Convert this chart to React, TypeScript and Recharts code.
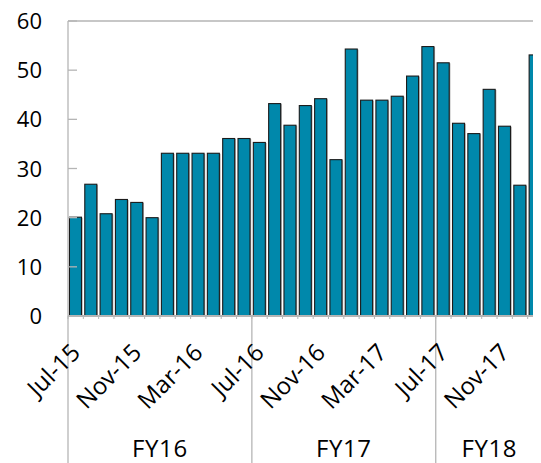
import React from "react";
import { BarChart, Bar, XAxis, YAxis, ReferenceLine } from "recharts";

const months = [
  "Jul-15", "Aug-15", "Sep-15", "Oct-15", "Nov-15", "Dec-15",
  "Jan-16", "Feb-16", "Mar-16", "Apr-16", "May-16", "Jun-16",
  "Jul-16", "Aug-16", "Sep-16", "Oct-16", "Nov-16", "Dec-16",
  "Jan-17", "Feb-17", "Mar-17", "Apr-17", "May-17", "Jun-17",
  "Jul-17", "Aug-17", "Sep-17", "Oct-17", "Nov-17", "Dec-17",
  "Jan-18",
];
const values = [
  20.1, 26.8, 20.8, 23.7, 23.1, 20.0,
  33.1, 33.1, 33.1, 33.1, 36.1, 36.1,
  35.3, 43.2, 38.8, 42.8, 44.2, 31.8,
  54.3, 43.9, 43.9, 44.7, 48.8, 54.8,
  51.5, 39.2, 37.1, 46.1, 38.6, 26.6,
  53.1,
];
const yTicks = [0, 10, 20, 30, 40, 50, 60];
const fyLabels = [
  { index: 6, label: "FY16", edge: true },
  { index: 18, label: "FY17", edge: true },
  { index: 27, label: "FY18", edge: false },
];
const fyStarts = [0, 12, 24];

const data = months.map((m, i) => ({ month: m, value: values[i] }));

const W = 535;
const H = 455;
const LEFT = 60;
const BW = (W - LEFT) / months.length;
const GRAY = "#b5b5b5";
const FONT = "'Open Sans', 'Noto Sans', sans-serif";

const XTick = (props: any) => {
  const { x, y, payload, index } = props;
  const left = x - BW / 2;
  const fy = fyLabels.find((f) => f.index === index);
  return (
    <g>
      <line x1={left} y1={y} x2={left} y2={y + 3} stroke={GRAY} strokeWidth={1} />
      {fyStarts.includes(index) && (
        <line x1={left} y1={y} x2={left} y2={y + 150} stroke={GRAY} strokeWidth={1.3} />
      )}
      {index % 4 === 0 && (
        <text
          transform={`translate(${x + 6},${y + 38}) rotate(-45)`}
          textAnchor="end"
          fontSize={24}
          fontFamily={FONT}
          fill="#000"
        >
          {payload.value}
        </text>
      )}
      {fy && (
        <text
          x={fy.edge ? left : x}
          y={y + 141}
          textAnchor="middle"
          fontSize={24}
          letterSpacing={0.6}
          fontFamily={FONT}
          fill="#000"
        >
          {fy.label}
        </text>
      )}
    </g>
  );
};

const YTick = (props: any) => {
  const { x, y, payload } = props;
  return (
    <g>
      <line x1={x} y1={y} x2={x + 9} y2={y} stroke={GRAY} strokeWidth={1.3} />
      <text
        x={x - 26}
        y={y}
        dy={8}
        textAnchor="end"
        fontSize={22}
        fontFamily={FONT}
        fill="#000"
      >
        {payload.value}
      </text>
    </g>
  );
};

const BarShape = (props: any) => {
  const { x, y, width, height } = props;
  return (
    <g>
      <rect x={x + 1.2} y={y + 0.5} width={width} height={height} fill="#a8a8a8" />
      <rect x={x} y={y} width={width} height={height} fill="#0088ab" stroke="#1b1b1b" strokeWidth={1.1} />
    </g>
  );
};

export default function App() {
  return (
    <div style={{ width: W, height: H }}>
      <BarChart
        width={W}
        height={H}
        data={data}
        margin={{ top: 13, right: 0, bottom: 0, left: 0 }}
        barCategoryGap="9.5%"
      >
        <Bar dataKey="value" isAnimationActive={false} shape={<BarShape />} />
        <ReferenceLine y={60} stroke={GRAY} strokeWidth={1.3} />
        <XAxis
          dataKey="month"
          interval={0}
          height={147}
          tickLine={false}
          tickSize={0}
          tickMargin={0}
          axisLine={{ stroke: GRAY, strokeWidth: 2 }}
          tick={<XTick />}
        />
        <YAxis
          width={LEFT}
          domain={[0, 60]}
          ticks={yTicks}
          interval={0}
          tickLine={false}
          tickSize={0}
          tickMargin={0}
          axisLine={{ stroke: GRAY, strokeWidth: 1.3 }}
          tick={<YTick />}
        />
      </BarChart>
    </div>
  );
}
